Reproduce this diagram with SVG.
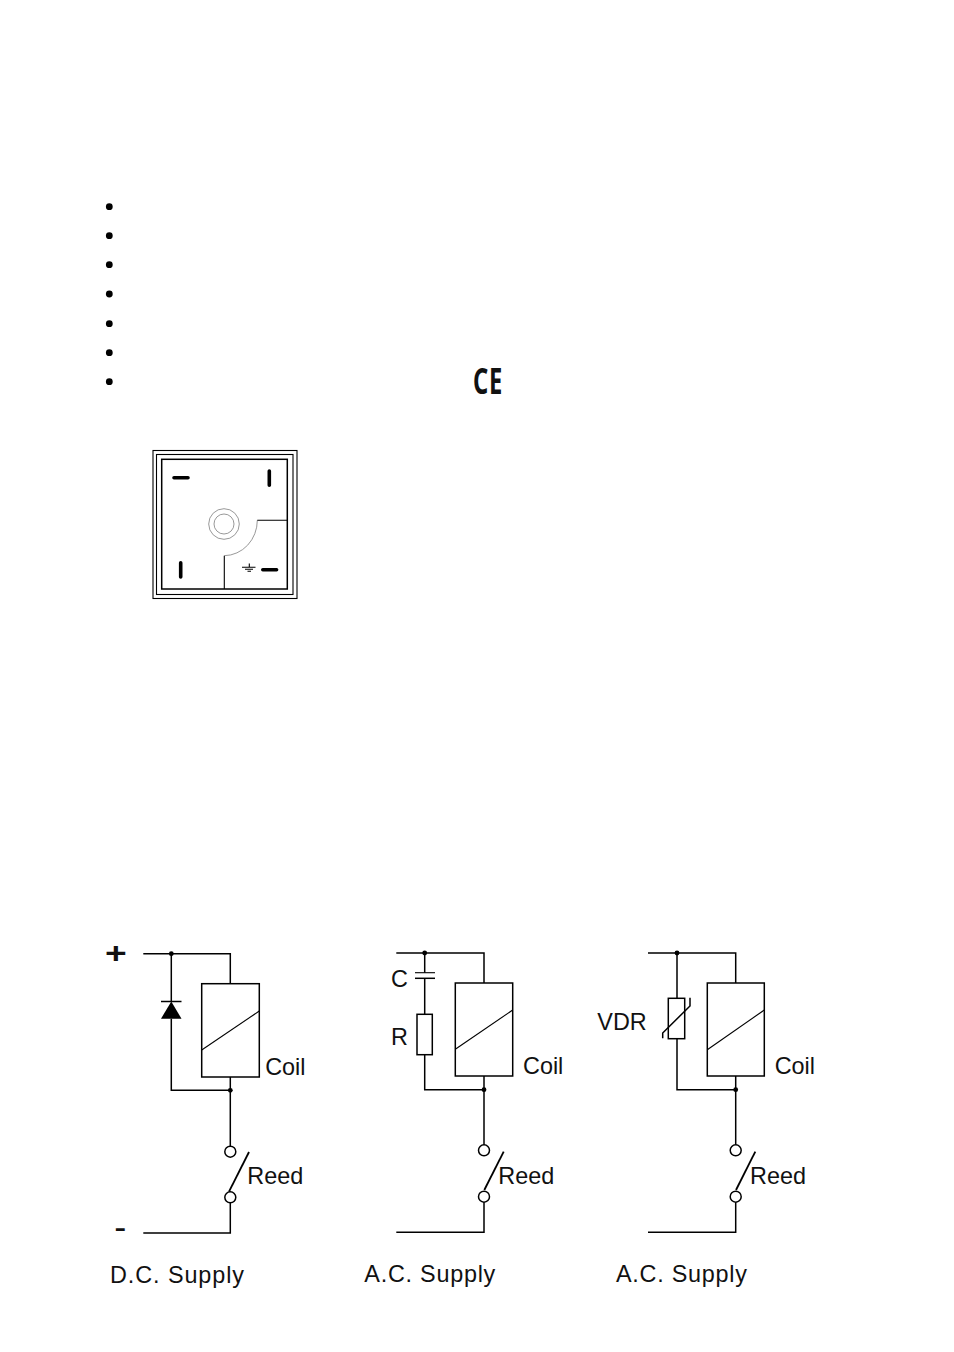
<svg xmlns="http://www.w3.org/2000/svg" width="954" height="1352" viewBox="0 0 954 1352">
<style>
text{font-family:"Liberation Sans",Arial,sans-serif;fill:#111}
.l{font-size:23.4px}
.w{fill:none;stroke:#000;stroke-width:1.5}
.b{fill:#fff;stroke:#000;stroke-width:1.5}
.t{fill:none;stroke:#000;stroke-width:1.8}
.s{fill:none;stroke:#000;stroke-width:1.1}
.g{fill:none;stroke:#999;stroke-width:1}
.p{fill:none;stroke:#000;stroke-width:3.6;stroke-linecap:round}
.k{fill:#000}
</style>
<rect width="954" height="1352" fill="#fff"/>
<g id="bullets" class="k">
<circle cx="109.3" cy="206.7" r="3.4"/><circle cx="109.3" cy="235.7" r="3.4"/><circle cx="109.3" cy="264.7" r="3.4"/><circle cx="109.3" cy="294" r="3.4"/><circle cx="109.3" cy="323.7" r="3.4"/><circle cx="109.3" cy="352.7" r="3.4"/><circle cx="109.3" cy="381.7" r="3.4"/>
</g>
<g id="ce-mark"><text transform="translate(473 394) scale(.66 1)" font-size="36" font-weight="700" style="font-family:'Noto Sans',sans-serif" letter-spacing="1">CE</text></g>
<g id="socket">
<rect class="s" x="153" y="450.5" width="144" height="148"/>
<rect class="s" x="156.5" y="454.5" width="136.5" height="140"/>
<rect class="w" x="161.7" y="459.3" width="125.6" height="129.7"/>
<path class="p" d="M174 477.7H188M269.3 471V485.3M180.7 562.8V577M262.8 569.7H276.6"/>
<circle class="g" cx="224" cy="524" r="15.3"/><circle class="g" cx="224" cy="524" r="10"/>
<path class="g" d="M257.3 520.3A33.5 35.4 0 0 1 224.3 555.7"/>
<path class="s" d="M257.3 520.3H287.3M224.3 555.7V589M249.3 563.5V567.3M242 567.3H255.5M245 569.3H253M247.5 571.2H251"/>
</g>
<g id="connectors">
<path class="w" d="M143.3 953.7H230.3V983.7M171.3 953.7V1001.5M171.3 1018.7V1090.3H230.3M230.3 1077V1146.2M230.3 1202.8V1233H143.3"/>
<path class="w" d="M396.3 953H484V983M424.7 953V972.7M424.7 978.3V1014.3M424.7 1054.7V1089.7H484M484 1076V1144.8M484 1202.2V1232.3H396.3"/>
<path class="w" d="M648 953H735.7V983M677 953V998.3M677 1038.7V1089.7H735.7M735.7 1076V1144.8M735.7 1202.2V1232.3H648"/>
</g>
<g id="dc-diode"><path class="k" d="M171.3 1001.5L181.5 1018.7H161Z"/><path class="w" d="M161 1001.5H181.5"/></g>
<g id="dc-coil"><rect class="b" x="201.7" y="983.7" width="57.6" height="93.3"/><path class="s" d="M201.7 1050L259.3 1011"/></g>
<g id="dc-reed"><circle class="b" cx="230.3" cy="1151.7" r="5.5"/><circle class="b" cx="230.3" cy="1197.3" r="5.5"/><path class="t" d="M229 1191.7L249 1152"/></g>
<g id="dc-junctions" class="k"><circle cx="171.3" cy="953.7" r="2.4"/><circle cx="230.3" cy="1090.3" r="2.4"/></g>
<g id="rc-capacitor"><path class="s" d="M415 972.7H435"/><path class="w" d="M415 978.3H435"/></g>
<g id="rc-resistor"><rect class="b" x="417" y="1014.3" width="15.3" height="40.4"/></g>
<g id="rc-coil"><rect class="b" x="455.3" y="983" width="57.4" height="93"/><path class="s" d="M455.3 1049.3L512.7 1010"/></g>
<g id="rc-reed"><circle class="b" cx="484" cy="1150.3" r="5.5"/><circle class="b" cx="484" cy="1196.7" r="5.5"/><path class="t" d="M484.3 1190L503.7 1151.7"/></g>
<g id="rc-junctions" class="k"><circle cx="424.7" cy="953" r="2.4"/><circle cx="484" cy="1089.7" r="2.4"/></g>
<g id="vdr"><rect class="b" x="668.3" y="998.3" width="16.4" height="40.4"/><path class="w" d="M662.7 1038.3V1033L690 1006V997.7"/></g>
<g id="vdr-coil"><rect class="b" x="707.3" y="983" width="57" height="93"/><path class="s" d="M707.3 1049.7L764.3 1010"/></g>
<g id="vdr-reed"><circle class="b" cx="735.7" cy="1150.3" r="5.5"/><circle class="b" cx="735.7" cy="1196.7" r="5.5"/><path class="t" d="M736 1190L755.3 1151.7"/></g>
<g id="vdr-junctions" class="k"><circle cx="677" cy="953" r="2.4"/><circle cx="735.7" cy="1089.7" r="2.4"/></g>
<g id="labels">
<text transform="translate(105 963) scale(1.2 .95)" font-size="31" font-weight="700" fill="#000">+</text>
<text transform="translate(114.5 1236) scale(1.45 1)" font-size="24" font-weight="700" fill="#000">-</text>
<text class="l" x="265.2" y="1075">Coil</text>
<text class="l" x="247.3" y="1184.3">Reed</text>
<text class="l" x="110" y="1282.7" textLength="134">D.C. Supply</text>
<text class="l" x="391" y="987.3">C</text>
<text class="l" x="391" y="1044.7">R</text>
<text class="l" x="523" y="1074.3">Coil</text>
<text class="l" x="498.3" y="1184">Reed</text>
<text class="l" x="364.3" y="1281.7" textLength="131">A.C. Supply</text>
<text class="l" x="597.3" y="1030.3">VDR</text>
<text class="l" x="774.7" y="1074.3">Coil</text>
<text class="l" x="750" y="1184">Reed</text>
<text class="l" x="616" y="1281.7" textLength="131">A.C. Supply</text>
</g>
</svg>
